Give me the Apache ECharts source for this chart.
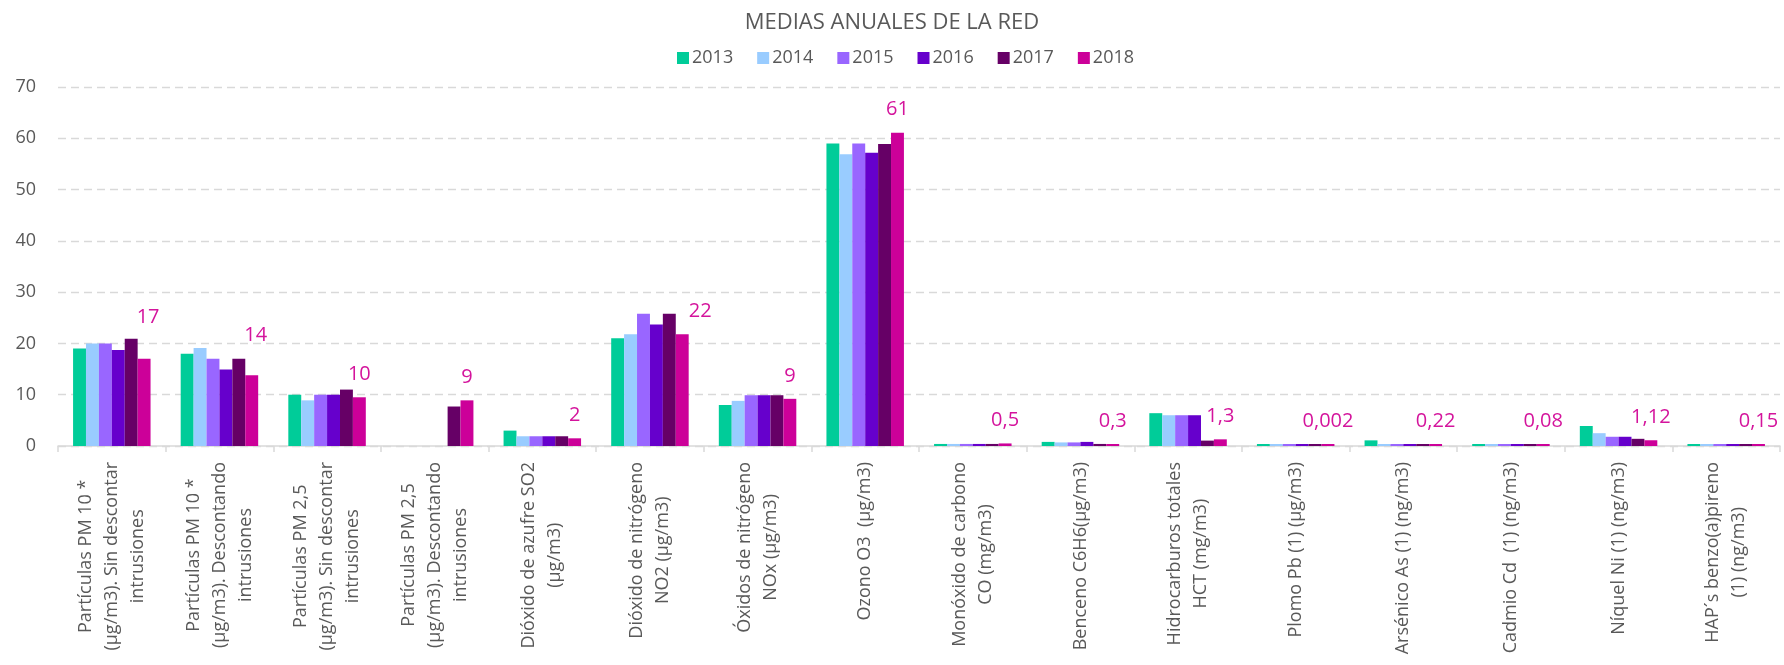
<!DOCTYPE html>
<html>
<head>
<meta charset="utf-8">
<script src="https://cdn.jsdelivr.net/npm/echarts@6/dist/echarts.min.js"></script>
<style>
  html, body { margin: 0; padding: 0; background: #ffffff; }
  #chart { width: 1784px; height: 665px; }
</style>
</head>
<body>
<div id="chart"></div>
<script>
const titleText = 'MEDIAS ANUALES DE LA RED';
const years = ['2013', '2014', '2015', '2016', '2017', '2018'];
const categories = [
  'Partículas PM 10 *\n(µg/m3). Sin descontar\nintrusiones',
  'Partículas PM 10 *\n(µg/m3). Descontando\nintrusiones',
  'Partículas PM 2,5\n(µg/m3). Sin descontar\nintrusiones',
  'Partículas PM 2,5\n(µg/m3). Descontando\nintrusiones',
  'Dióxido de azufre SO2\n(µg/m3)',
  'Dióxido de nitrógeno\nNO2 (µg/m3)',
  'Óxidos de nitrógeno\nNOx (µg/m3)',
  'Ozono O3  (µg/m3)',
  'Monóxido de carbono\nCO (mg/m3)',
  'Benceno C6H6(µg/m3)',
  'Hidrocarburos totales\nHCT (mg/m3)',
  'Plomo Pb (1) (µg/m3)',
  'Arsénico As (1) (ng/m3)',
  'Cadmio Cd  (1) (ng/m3)',
  'Níquel Ni (1) (ng/m3)',
  'HAP´s benzo(a)pireno\n(1) (ng/m3)'
];
const v2013 = [19, 18, 10, null, 3, 21, 8, 59, 0.4, 0.8, 6.4, 0.002, 1.1, 0.1, 3.9, 0.15];
const v2014 = [20, 19.1, 8.9, null, 1.9, 21.8, 8.8, 56.9, 0.4, 0.7, 6.0, 0.002, 0.2, 0.1, 2.5, 0.15];
const v2015 = [20, 17, 10, null, 1.9, 25.8, 9.9, 59, 0.4, 0.7, 6.0, 0.002, 0.2, 0.1, 1.8, 0.15];
const v2016 = [18.7, 14.9, 10, null, 1.9, 23.7, 9.9, 57.2, 0.4, 0.8, 6.0, 0.002, 0.2, 0.1, 1.8, 0.15];
const v2017 = [20.9, 17, 11, 7.7, 1.9, 25.8, 9.9, 58.9, 0.4, 0.4, 1.05, 0.002, 0.2, 0.1, 1.4, 0.15];
const v2018 = [17, 13.8, 9.5, 8.9, 1.5, 21.8, 9.2, 61.1, 0.5, 0.3, 1.3, 0.002, 0.22, 0.08, 1.12, 0.15];
const labels2018 = ['17', '14', '10', '9', '2', '22', '9', '61', '0,5', '0,3', '1,3', '0,002', '0,22', '0,08', '1,12', '0,15'];
const yTicks = [0, 10, 20, 30, 40, 50, 60, 70];

const colors = ['#00CC99', '#99CCFF', '#9966FF', '#6600CC', '#660066', '#CC0099'];
const seriesValues = [v2013, v2014, v2015, v2016, v2017, v2018];
const FONT = '"Open Sans", "Noto Sans", sans-serif';
const GRAY = '#595959';

// label placement tweaks (Excel labels moved by hand in the original)
const labelTweaks = {
  0: { distance: 32, offset: [4, 0] },
  1: { distance: 30, offset: [4, 0] },
  5: { offset: [18, 0] }
};

const series = years.map((y, si) => {
  const isLast = si === years.length - 1;
  const data = seriesValues[si].map((v, i) => {
    if (!isLast) return v;
    const item = { value: v };
    if (labelTweaks[i]) item.label = labelTweaks[i];
    return item;
  });
  return {
    name: y,
    type: 'bar',
    data: data,
    barGap: '0%',
    barCategoryGap: '28%',
    barMinHeight: 2,
    itemStyle: { color: colors[si] },
    emphasis: { disabled: true },
    label: isLast ? {
      show: true,
      position: 'top',
      distance: 13,
      color: '#D4149C',
      fontFamily: FONT,
      fontSize: 20,
      formatter: p => labels2018[p.dataIndex]
    } : { show: false }
  };
});

const chart = echarts.init(document.getElementById('chart'), null, { renderer: 'canvas' });
chart.setOption({
  animation: false,
  backgroundColor: '#ffffff',
  title: {
    text: titleText,
    left: 'center',
    top: 7,
    textStyle: { fontFamily: FONT, fontSize: 22, fontWeight: 'normal', color: GRAY }
  },
  legend: {
    data: years,
    top: 44,
    left: 672,
    icon: 'rect',
    itemWidth: 12,
    itemHeight: 12,
    itemGap: 24,
    textStyle: { fontFamily: FONT, fontSize: 18, color: GRAY, padding: [0, 0, 0, -2] }
  },
  grid: { left: 58, right: 4, top: 87, bottom: 219, containLabel: false },
  xAxis: {
    type: 'category',
    data: categories,
    axisLine: { lineStyle: { color: '#D9D9D9', width: 1.5 } },
    axisTick: { show: true, length: 6, lineStyle: { color: '#D9D9D9', width: 1.5 } },
    axisLabel: {
      interval: 0,
      rotate: 90,
      margin: 16,
      color: GRAY,
      fontFamily: FONT,
      fontSize: 18,
      lineHeight: 26,
      formatter: v => v.split('\n').map(l => '{c|' + l + '}').join('\n'),
      rich: { c: { align: 'center', fontFamily: FONT, fontSize: 18, lineHeight: 26, color: GRAY } }
    }
  },
  yAxis: {
    type: 'value',
    min: yTicks[0],
    max: yTicks[yTicks.length - 1],
    interval: 10,
    axisLine: { show: false },
    axisTick: { show: false },
    axisLabel: { margin: 22, color: GRAY, fontFamily: FONT, fontSize: 18 },
    splitLine: { lineStyle: { color: '#D9D9D9', width: 1.3, type: [8, 5] } }
  },
  series: series
});
</script>
</body>
</html>
